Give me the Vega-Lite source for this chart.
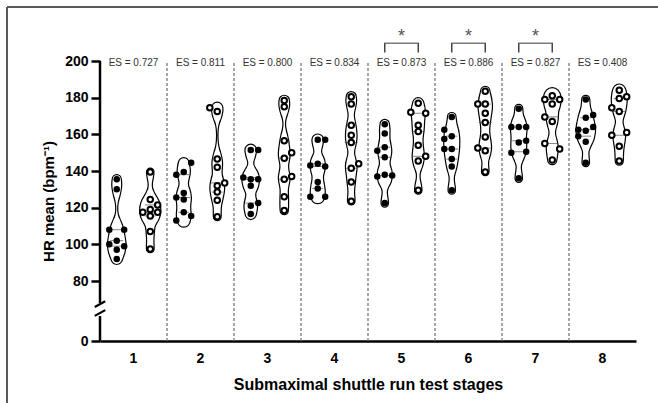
{
  "$schema": "https://vega.github.io/schema/vega-lite/v6.json",
  "autosize": "none",
  "padding": {"left": 7, "top": 7, "right": 0, "bottom": 0},
  "width": 651,
  "height": 396,
  "background": "white",
  "config": {
    "font": "Liberation Sans",
    "view": {"stroke": "#5a5a5a", "strokeWidth": 2, "strokeDash": [651, 1047, 396, 0]},
    "axis": {"grid": false}
  },
  "datasets": {
    "pts": [
      {"s":"1","g":"F","l":"F","hr":135.5},{"s":"1","g":"F","l":"F","hr":130},{"s":"1","g":"F","l":"F-2","hr":108},{"s":"1","g":"F","l":"F+2","hr":108},{"s":"1","g":"F","l":"F","hr":102},{"s":"1","g":"F","l":"F-2","hr":100},{"s":"1","g":"F","l":"F+2","hr":99},{"s":"1","g":"F","l":"F","hr":97},{"s":"1","g":"F","l":"F","hr":92},
      {"s":"1","g":"O","l":"O","hr":139.5},{"s":"1","g":"O","l":"O","hr":124.5},{"s":"1","g":"O","l":"O+2","hr":121.5},{"s":"1","g":"O","l":"O","hr":119},{"s":"1","g":"O","l":"O-2","hr":117.5},{"s":"1","g":"O","l":"O+2","hr":117.5},{"s":"1","g":"O","l":"O","hr":115.5},{"s":"1","g":"O","l":"O","hr":107},{"s":"1","g":"O","l":"O","hr":97.5},
      {"s":"2","g":"F","l":"F+2","hr":144.5},{"s":"2","g":"F","l":"F","hr":139.5},{"s":"2","g":"F","l":"F-2","hr":138},{"s":"2","g":"F","l":"F","hr":128},{"s":"2","g":"F","l":"F-2","hr":125.5},{"s":"2","g":"F","l":"F","hr":124.5},{"s":"2","g":"F","l":"F","hr":117.5},{"s":"2","g":"F","l":"F+2","hr":115.5},{"s":"2","g":"F","l":"F-2","hr":113},
      {"s":"2","g":"O","l":"O-2","hr":174.5},{"s":"2","g":"O","l":"O","hr":172.5},{"s":"2","g":"O","l":"O","hr":146.5},{"s":"2","g":"O","l":"O","hr":142},{"s":"2","g":"O","l":"O+2","hr":133.5},{"s":"2","g":"O","l":"O","hr":132},{"s":"2","g":"O","l":"O","hr":128.5},{"s":"2","g":"O","l":"O","hr":124},{"s":"2","g":"O","l":"O","hr":115},
      {"s":"3","g":"F","l":"F","hr":151.5},{"s":"3","g":"F","l":"F+2","hr":151.5},{"s":"3","g":"F","l":"F-2","hr":136.5},{"s":"3","g":"F","l":"F","hr":135.5},{"s":"3","g":"F","l":"F+2","hr":135.5},{"s":"3","g":"F","l":"F","hr":132},{"s":"3","g":"F","l":"F+2","hr":122.5},{"s":"3","g":"F","l":"F","hr":121},{"s":"3","g":"F","l":"F","hr":116.5},
      {"s":"3","g":"O","l":"O","hr":178.5},{"s":"3","g":"O","l":"O","hr":175},{"s":"3","g":"O","l":"O","hr":156.5},{"s":"3","g":"O","l":"O+2","hr":150},{"s":"3","g":"O","l":"O","hr":147},{"s":"3","g":"O","l":"O+2","hr":137},{"s":"3","g":"O","l":"O","hr":135.5},{"s":"3","g":"O","l":"O","hr":126},{"s":"3","g":"O","l":"O","hr":118.5},
      {"s":"4","g":"F","l":"F","hr":157},{"s":"4","g":"F","l":"F+2","hr":157},{"s":"4","g":"F","l":"F","hr":144},{"s":"4","g":"F","l":"F-2","hr":143},{"s":"4","g":"F","l":"F+2","hr":142.5},{"s":"4","g":"F","l":"F","hr":134},{"s":"4","g":"F","l":"F","hr":130.5},{"s":"4","g":"F","l":"F-2","hr":126},{"s":"4","g":"F","l":"F+2","hr":126},
      {"s":"4","g":"O","l":"O","hr":180.5},{"s":"4","g":"O","l":"O","hr":176.5},{"s":"4","g":"O","l":"O","hr":165},{"s":"4","g":"O","l":"O","hr":159.5},{"s":"4","g":"O","l":"O","hr":155.5},{"s":"4","g":"O","l":"O+2","hr":144},{"s":"4","g":"O","l":"O","hr":141.5},{"s":"4","g":"O","l":"O","hr":134},{"s":"4","g":"O","l":"O","hr":123.5},
      {"s":"5","g":"F","l":"F","hr":165.5},{"s":"5","g":"F","l":"F","hr":160.5},{"s":"5","g":"F","l":"F","hr":153},{"s":"5","g":"F","l":"F-2","hr":151},{"s":"5","g":"F","l":"F","hr":147.5},{"s":"5","g":"F","l":"F-2","hr":137},{"s":"5","g":"F","l":"F","hr":138},{"s":"5","g":"F","l":"F+2","hr":137.5},{"s":"5","g":"F","l":"F","hr":122.5},
      {"s":"5","g":"O","l":"O","hr":177},{"s":"5","g":"O","l":"O-2","hr":172},{"s":"5","g":"O","l":"O+2","hr":171.5},{"s":"5","g":"O","l":"O","hr":165},{"s":"5","g":"O","l":"O","hr":161.5},{"s":"5","g":"O","l":"O","hr":154},{"s":"5","g":"O","l":"O+2","hr":148},{"s":"5","g":"O","l":"O","hr":145.5},{"s":"5","g":"O","l":"O","hr":129.5},
      {"s":"6","g":"F","l":"F","hr":169.5},{"s":"6","g":"F","l":"F-2","hr":162.5},{"s":"6","g":"F","l":"F","hr":159},{"s":"6","g":"F","l":"F-2","hr":157.5},{"s":"6","g":"F","l":"F-2","hr":152},{"s":"6","g":"F","l":"F","hr":152},{"s":"6","g":"F","l":"F","hr":146.5},{"s":"6","g":"F","l":"F","hr":142.5},{"s":"6","g":"F","l":"F","hr":129.5},
      {"s":"6","g":"O","l":"O","hr":183.5},{"s":"6","g":"O","l":"O-2","hr":176.5},{"s":"6","g":"O","l":"O","hr":176.5},{"s":"6","g":"O","l":"O","hr":171.5},{"s":"6","g":"O","l":"O","hr":166.5},{"s":"6","g":"O","l":"O","hr":158.5},{"s":"6","g":"O","l":"O-2","hr":152.5},{"s":"6","g":"O","l":"O","hr":151},{"s":"6","g":"O","l":"O","hr":139.5},
      {"s":"7","g":"F","l":"F","hr":174},{"s":"7","g":"F","l":"F-2","hr":164},{"s":"7","g":"F","l":"F","hr":164},{"s":"7","g":"F","l":"F+2","hr":164},{"s":"7","g":"F","l":"F","hr":155.5},{"s":"7","g":"F","l":"F+2","hr":156.5},{"s":"7","g":"F","l":"F-2","hr":150},{"s":"7","g":"F","l":"F+2","hr":150.5},{"s":"7","g":"F","l":"F","hr":136},
      {"s":"7","g":"O","l":"O","hr":181},{"s":"7","g":"O","l":"O-2","hr":179},{"s":"7","g":"O","l":"O+2","hr":179},{"s":"7","g":"O","l":"O","hr":176.5},{"s":"7","g":"O","l":"O-2","hr":169.5},{"s":"7","g":"O","l":"O","hr":167},{"s":"7","g":"O","l":"O-2","hr":155},{"s":"7","g":"O","l":"O+2","hr":152},{"s":"7","g":"O","l":"O","hr":146},
      {"s":"8","g":"F","l":"F","hr":179},{"s":"8","g":"F","l":"F+2","hr":170.5},{"s":"8","g":"F","l":"F","hr":169},{"s":"8","g":"F","l":"F-2","hr":162.5},{"s":"8","g":"F","l":"F","hr":162},{"s":"8","g":"F","l":"F+2","hr":164},{"s":"8","g":"F","l":"F-2","hr":159},{"s":"8","g":"F","l":"F","hr":156},{"s":"8","g":"F","l":"F","hr":144.5},
      {"s":"8","g":"O","l":"O","hr":184},{"s":"8","g":"O","l":"O","hr":179.5},{"s":"8","g":"O","l":"O+2","hr":180.5},{"s":"8","g":"O","l":"O-2","hr":174.5},{"s":"8","g":"O","l":"O","hr":172.5},{"s":"8","g":"O","l":"O-2","hr":159.5},{"s":"8","g":"O","l":"O+2","hr":161},{"s":"8","g":"O","l":"O","hr":153.5},{"s":"8","g":"O","l":"O","hr":145.5}
    ],
    "es": [
      {"s":"1","es":"ES = 0.727","sig":0},
      {"s":"2","es":"ES = 0.811","sig":0},
      {"s":"3","es":"ES = 0.800","sig":0},
      {"s":"4","es":"ES = 0.834","sig":0},
      {"s":"5","es":"ES = 0.873","sig":1},
      {"s":"6","es":"ES = 0.886","sig":1},
      {"s":"7","es":"ES = 0.827","sig":1},
      {"s":"8","es":"ES = 0.408","sig":0}
    ]
  },
  "encoding": {
    "x": {
      "field": "s", "type": "ordinal", "title": "Submaximal shuttle run test stages",
      "scale": {"range": [93, 629], "paddingInner": 0, "paddingOuter": 0},
      "axis": {"orient": "bottom", "offset": -62, "labelAngle": 0, "ticks": false, "domainColor": "black", "domainWidth": 2.5,
        "labelFontSize": 14, "labelFontWeight": "bold", "labelColor": "black", "labelPadding": 10,
        "titleFontSize": 16, "titleFontWeight": "bold", "titleColor": "black", "titlePadding": 11}
    }
  },
  "layer": [
    {
      "data": {"name": "es"},
      "transform": [{"filter": "datum.s != '1'"}],
      "mark": {"type": "rule", "color": "#777777", "strokeDash": [3, 2], "strokeWidth": 1.3},
      "encoding": {
        "x": {"field": "s", "type": "ordinal", "bandPosition": 0, "title": "Submaximal shuttle run test stages"},
        "y": {"datum": 0, "type": "quantitative", "title": "HR mean (bpm⁻¹)",
          "scale": {"domain": [0, 40, 68, 200], "range": [334, 309, 296, 54], "nice": false, "zero": false},
          "axis": {"values": [0, 80, 100, 120, 140, 160, 180, 200], "offset": -93, "domain": false, "tickColor": "black", "tickWidth": 2.5, "tickSize": 9,
            "labelFontSize": 14, "labelFontWeight": "bold", "labelColor": "black", "labelPadding": 3, "labelOverlap": false, "labelFlush": false,
            "titleFontSize": 15, "titleFontWeight": "bold", "titleColor": "black", "titlePadding": 8}},
        "y2": {"datum": 200}
      }
    },
    {
      "data": {"name": "es"},
      "transform": [{"filter": "datum.s == '1'"}],
      "mark": {"type": "rule", "color": "black", "strokeWidth": 2.5},
      "encoding": {
        "x": {"field": "s", "type": "ordinal", "bandPosition": 0, "title": "Submaximal shuttle run test stages"},
        "y": {"datum": 0, "type": "quantitative", "title": "HR mean (bpm⁻¹)"},
        "y2": {"datum": 40}
      }
    },
    {
      "data": {"name": "es"},
      "transform": [{"filter": "datum.s == '1'"}],
      "mark": {"type": "rule", "color": "black", "strokeWidth": 2.5},
      "encoding": {
        "x": {"field": "s", "type": "ordinal", "bandPosition": 0, "title": "Submaximal shuttle run test stages"},
        "y": {"datum": 68, "type": "quantitative", "title": "HR mean (bpm⁻¹)"},
        "y2": {"datum": 200}
      }
    },
    {
      "data": {"name": "es"},
      "transform": [{"filter": "datum.s == '1'"}],
      "mark": {"type": "point", "shape": "M -1 0.55 L 1 -0.55", "filled": false, "color": "black", "strokeWidth": 2.2, "size": 110, "opacity": 1},
      "encoding": {
        "x": {"field": "s", "type": "ordinal", "bandPosition": 0, "title": "Submaximal shuttle run test stages"},
        "y": {"datum": 65.5, "type": "quantitative", "title": "HR mean (bpm⁻¹)"}
      }
    },
    {
      "data": {"name": "es"},
      "transform": [{"filter": "datum.s == '1'"}],
      "mark": {"type": "point", "shape": "M -1 0.55 L 1 -0.55", "filled": false, "color": "black", "strokeWidth": 2.2, "size": 110, "opacity": 1},
      "encoding": {
        "x": {"field": "s", "type": "ordinal", "bandPosition": 0, "title": "Submaximal shuttle run test stages"},
        "y": {"datum": 46.5, "type": "quantitative", "title": "HR mean (bpm⁻¹)"}
      }
    },
    {
      "data": {"name": "pts"},
      "transform": [
        {"joinaggregate": [{"op": "min", "field": "hr", "as": "lo"}, {"op": "max", "field": "hr", "as": "hi"}], "groupby": ["s", "g"]},
        {"density": "hr", "groupby": ["s", "g", "lo", "hi"], "bandwidth": 4, "steps": 300},
        {"filter": "datum.value >= datum.lo - 0.2 && datum.value <= datum.hi + 0.2"}
      ],
      "mark": {"type": "trail", "color": "black"},
      "encoding": {
        "xOffset": {"field": "g", "type": "nominal", "scale": {"domain": ["F-4","F-3","F-2","F-1","F","F+1","F+2","F+3","F+4","O-4","O-3","O-2","O-1","O","O+1","O+2","O+3","O+4"], "paddingInner": 0, "paddingOuter": 0}},
        "y": {"field": "value", "type": "quantitative", "title": "HR mean (bpm⁻¹)"},
        "size": {"field": "density", "type": "quantitative", "scale": {"type": "pow", "exponent": 0.75, "range": [2.4, 22.4]}, "legend": null},
        "detail": [{"field": "s"}, {"field": "g"}],
        "order": {"field": "value", "type": "quantitative"}
      }
    },
    {
      "data": {"name": "pts"},
      "transform": [
        {"joinaggregate": [{"op": "min", "field": "hr", "as": "lo"}, {"op": "max", "field": "hr", "as": "hi"}], "groupby": ["s", "g"]},
        {"density": "hr", "groupby": ["s", "g", "lo", "hi"], "bandwidth": 4, "steps": 300},
        {"filter": "datum.value >= datum.lo - 0.2 && datum.value <= datum.hi + 0.2"}
      ],
      "mark": {"type": "trail", "color": "white"},
      "encoding": {
        "xOffset": {"field": "g", "type": "nominal"},
        "y": {"field": "value", "type": "quantitative", "title": "HR mean (bpm⁻¹)"},
        "size": {"field": "density", "type": "quantitative", "scale": {"type": "pow", "exponent": 0.75, "range": [0, 20]}, "legend": null},
        "detail": [{"field": "s"}, {"field": "g"}],
        "order": {"field": "value", "type": "quantitative"}
      }
    },
    {
      "data": {"name": "pts"},
      "transform": [{"quantile": "hr", "groupby": ["s", "g"], "probs": [0.25, 0.75], "as": ["prob", "value"]}],
      "mark": {"type": "tick", "color": "#555555", "thickness": 1, "size": 11, "strokeDash": [1.5, 1.5]},
      "encoding": {
        "xOffset": {"field": "g", "type": "nominal"},
        "y": {"field": "value", "type": "quantitative", "title": "HR mean (bpm⁻¹)"}
      }
    },
    {
      "data": {"name": "pts"},
      "transform": [{"quantile": "hr", "groupby": ["s", "g"], "probs": [0.5], "as": ["prob", "value"]}],
      "mark": {"type": "tick", "color": "#444444", "thickness": 1, "size": 13, "strokeDash": [3, 2]},
      "encoding": {
        "xOffset": {"field": "g", "type": "nominal"},
        "y": {"field": "value", "type": "quantitative", "title": "HR mean (bpm⁻¹)"}
      }
    },
    {
      "data": {"name": "pts"},
      "transform": [{"filter": "datum.g == 'F'"}],
      "mark": {"type": "circle", "color": "black", "size": 42, "opacity": 1},
      "encoding": {
        "xOffset": {"field": "l", "type": "nominal"},
        "y": {"field": "hr", "type": "quantitative", "title": "HR mean (bpm⁻¹)"}
      }
    },
    {
      "data": {"name": "pts"},
      "transform": [{"filter": "datum.g == 'O'"}],
      "mark": {"type": "point", "shape": "circle", "filled": true, "fill": "white", "stroke": "black", "strokeWidth": 2, "size": 30, "opacity": 1},
      "encoding": {
        "xOffset": {"field": "l", "type": "nominal"},
        "y": {"field": "hr", "type": "quantitative", "title": "HR mean (bpm⁻¹)"}
      }
    },
    {
      "data": {"name": "es"},
      "mark": {"type": "text", "fontSize": 10, "color": "#333333", "baseline": "middle"},
      "encoding": {
        "y": {"datum": 199, "type": "quantitative", "title": "HR mean (bpm⁻¹)"},
        "text": {"field": "es"}
      }
    },
    {
      "data": {"name": "es"},
      "transform": [{"filter": "datum.sig == 1"}],
      "mark": {"type": "rule", "color": "#444444", "strokeWidth": 1.5},
      "encoding": {
        "xOffset": {"datum": "F"},
        "y": {"datum": 204.7, "type": "quantitative", "title": "HR mean (bpm⁻¹)"},
        "y2": {"datum": 209.7}
      }
    },
    {
      "data": {"name": "es"},
      "transform": [{"filter": "datum.sig == 1"}],
      "mark": {"type": "rule", "color": "#444444", "strokeWidth": 1.5},
      "encoding": {
        "xOffset": {"datum": "O"},
        "y": {"datum": 204.7, "type": "quantitative", "title": "HR mean (bpm⁻¹)"},
        "y2": {"datum": 209.7}
      }
    },
    {
      "data": {"name": "es"},
      "transform": [{"filter": "datum.sig == 1"}],
      "mark": {"type": "tick", "color": "#444444", "thickness": 1.5, "size": 35},
      "encoding": {
        "y": {"datum": 209.7, "type": "quantitative", "title": "HR mean (bpm⁻¹)"}
      }
    },
    {
      "data": {"name": "es"},
      "transform": [{"filter": "datum.sig == 1"}],
      "mark": {"type": "text", "fontSize": 18, "color": "#555555", "baseline": "middle", "text": "*"},
      "encoding": {
        "y": {"datum": 213.3, "type": "quantitative", "title": "HR mean (bpm⁻¹)"}
      }
    }
  ],
  "resolve": {"scale": {"size": "independent"}}
}
